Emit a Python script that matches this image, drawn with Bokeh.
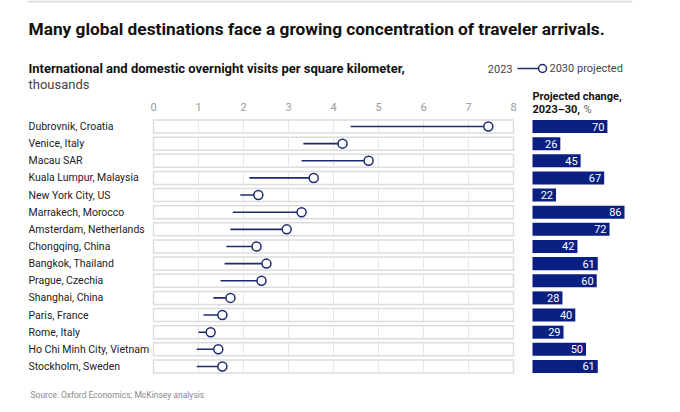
from bokeh.plotting import figure
from bokeh.models import Range1d, Label, ColumnDataSource
from bokeh.core.properties import value
from bokeh.embed import file_html
from bokeh.resources import INLINE

cities = ["Dubrovnik, Croatia", "Venice, Italy", "Macau SAR", "Kuala Lumpur, Malaysia",
          "New York City, US", "Marrakech, Morocco", "Amsterdam, Netherlands",
          "Chongqing, China", "Bangkok, Thailand", "Prague, Czechia", "Shanghai, China",
          "Paris, France", "Rome, Italy", "Ho Chi Minh City, Vietnam", "Stockholm, Sweden"]
v2023 = [4.38, 3.33, 3.29, 2.13, 1.93, 1.76, 1.71, 1.62, 1.58, 1.49, 1.33, 1.11, 1.00, 0.96, 0.96]
v2030 = [7.44, 4.20, 4.78, 3.56, 2.33, 3.29, 2.96, 2.29, 2.51, 2.40, 1.71, 1.53, 1.27, 1.44, 1.53]
pct_change = [70, 26, 45, 67, 22, 86, 72, 42, 61, 60, 28, 40, 29, 50, 61]
ticks = [0, 1, 2, 3, 4, 5, 6, 7, 8]

W, H = 680, 412
NAVY = "#1c2b6e"
BAR = "#0a1f82"
FONT = "Roboto"

rows = list(range(len(cities)))
row_px = 17.14
y0_px = 126
y_top = -y0_px / row_px
y_bot = (H - y0_px) / row_px

x0_px, x_scale = 153, 45.0
p = figure(width=W, height=H, output_backend="svg", toolbar_location=None,
           x_range=Range1d(-x0_px / x_scale, (W - x0_px) / x_scale),
           y_range=Range1d(y_bot, y_top), min_border=0)
p.extra_x_ranges = {"pct": Range1d(-532 / 1.07, (W - 532) / 1.07), "px": Range1d(0, W)}
p.extra_y_ranges = {"py": Range1d(H, 0)}
p.axis.visible = False
p.grid.visible = False
p.outline_line_color = None
p.background_fill_color = "white"

src = ColumnDataSource(dict(city=cities, a=v2023, b=v2030, pct=pct_change, y=rows,
                            pct_lbl=[str(v) for v in pct_change],
                            left0=[0] * len(rows), right8=[8] * len(rows)))

# row boxes
p.hbar(y="y", left="left0", right="right8", height=0.76, source=src,
       fill_color="white", line_color="#dcdcdc", line_width=1.5)
# vertical grid inside boxes
for t in ticks[1:-1]:
    p.segment(x0=[t] * len(rows), x1=[t] * len(rows),
              y0=[r - 0.36 for r in rows], y1=[r + 0.36 for r in rows],
              line_color="#e6e6e6", line_width=1)

# tick labels on top
p.text(x=ticks, y=[-1.12] * len(ticks), text=[str(t) for t in ticks],
       text_align="center", text_baseline="middle", text_font=value(FONT),
       text_font_size="11px", text_color="#9a9a9a")

# dumbbells
p.segment(x0="a", x1="b", y0="y", y1="y", source=src, line_color=NAVY, line_width=1.6)
p.scatter(x="b", y="y", source=src, size=9, fill_color="white", line_color=NAVY, line_width=1.5)

# city labels
p.text(x=[28] * len(rows), y=rows, text=cities, x_range_name="px",
       text_align="left", text_baseline="middle", text_font=value(FONT),
       text_font_size="10.5px", text_color="#222222")

# percent bars
p.hbar(y="y", left="left0", right="pct", height=0.76, source=src, x_range_name="pct",
       fill_color=BAR, line_color=None)
p.text(x="pct", y="y", text="pct_lbl", source=src, x_range_name="pct", x_offset=-3,
       text_align="right", text_baseline="middle", text_font=value(FONT),
       text_font_size="11px", text_color="white")

# top rule
p.segment(x0=[27], x1=[632], y0=[1], y1=[1], x_range_name="px", y_range_name="py",
          line_color="#dedede", line_width=2)

def lab(x, y, t, size, color="#111111", style="normal", align="left"):
    p.add_layout(Label(x=x, y=H - y, x_units="screen", y_units="screen", text=t,
                       text_font=FONT, text_font_size=size, text_color=color,
                       text_font_style=style, text_align=align, text_baseline="middle"))

lab(28, 28, "Many global destinations face a growing concentration of traveler arrivals.",
    "17.3px", "#111111", "bold")
lab(28, 68, "International and domestic overnight visits per square kilometer,",
    "13px", "#111111", "bold")
lab(28, 84, "thousands", "13px", "#444444")

# legend
lab(512, 68, "2023", "11px", "#444444", align="right")
p.segment(x0=[517], x1=[540], y0=[68], y1=[68], x_range_name="px", y_range_name="py",
          line_color=NAVY, line_width=1.6)
p.scatter(x=[542], y=[68], x_range_name="px", y_range_name="py", size=8,
          fill_color="white", line_color=NAVY, line_width=1.5)
lab(549, 68, "2030 projected", "11px", "#444444")

lab(532, 96, "Projected change,", "11px", "#111111", "bold")
lab(532, 109, "2023\u201330,", "11px", "#111111", "bold")
lab(583, 109, "%", "11px", "#666666")

lab(30, 394, "Source: Oxford Economics; McKinsey analysis", "8.5px", "#8a8a8a")

open("out.html", "w").write(file_html(p, INLINE))
